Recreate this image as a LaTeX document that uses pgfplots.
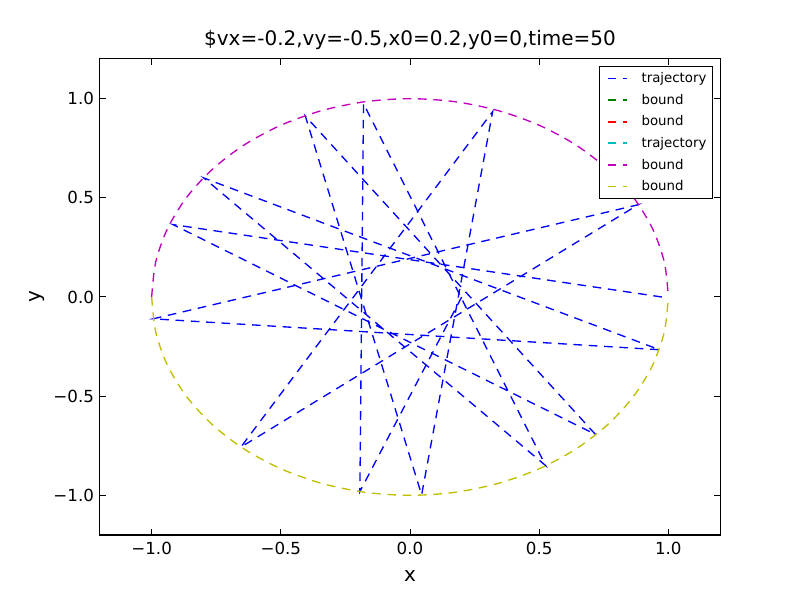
\documentclass[border=0pt]{standalone}
\usepackage{fontspec}
\setmainfont{DejaVu Sans}
\usepackage{pgfplots}
\pgfplotsset{compat=1.18}
\definecolor{mplb}{rgb}{0,0,1}
\definecolor{mplg}{rgb}{0,0.5,0}
\definecolor{mplr}{rgb}{1,0,0}
\definecolor{mplc}{rgb}{0,0.75,0.75}
\definecolor{mplm}{rgb}{0.75,0,0.75}
\definecolor{mply}{rgb}{0.75,0.75,0}
\begin{document}
\begin{tikzpicture}
\begin{axis}[
  scale only axis, width=465pt, height=357pt,
  xmin=-1.2, xmax=1.2, ymin=-1.2, ymax=1.2,
  xtick={-1,-0.5,0,0.5,1}, xticklabels={−1.0,−0.5,0.0,0.5,1.0},
  ytick={-1,-0.5,0,0.5,1}, yticklabels={−1.0,−0.5,0.0,0.5,1.0},
  minor tick num=0,
  tick align=inside, xtick pos=both, ytick pos=both,
  major tick length=4.5pt,
  tick style={black, line width=0.75pt},
  axis line style={black, line width=0.75pt},
  tick label style={font=\fontsize{12.5}{14}\selectfont},
  xticklabel style={yshift=-2pt},
  yticklabel style={xshift=-1pt},
  xlabel={x}, ylabel={y},
  xlabel style={at={(axis description cs:0.5,-0.086)}, anchor=center, font=\fontsize{15}{17}\selectfont},
  ylabel style={at={(axis description cs:-0.101,0.5)}, anchor=center, font=\fontsize{15}{17}\selectfont},
  title={\$vx=-0.2,vy=-0.5,x0=0.2,y0=0,time=50},
  title style={at={(axis description cs:0.5,1.0126)}, anchor=base, font=\fontsize{15}{17}\selectfont},
  legend cell align=left,
  legend style={at={(axis description cs:0.9887,0.9853)}, anchor=north east,
    font=\fontsize{10}{12}\selectfont, draw=black, line width=0.75pt,
    row sep=4.1pt, inner sep=3pt,
    nodes={inner sep=1.5pt}},
  legend image post style={line width=1.4pt},
  legend image code/.code={\draw[#1] (3pt,0pt) -- (17.5pt,0pt); \path[draw=none, fill=none] (0pt,0pt) -- (27pt,0pt);},
]
\addplot[color=mplb, line width=1pt, dash pattern=on 6.5pt off 5pt] coordinates {
(0.2,0) (-0.194,-0.981) (-0.180,0.975) (0.525,-0.850) (-0.798,0.600)
(0.966,-0.266) (-0.994,-0.110) (0.883,0.465) (-0.655,-0.757) (0.320,0.935)
(0.045,-0.998) (-0.405,0.912) (0.718,-0.693) (-0.917,0.365) (0.975,0.0)
};
\addlegendentry{trajectory}
\addlegendimage{color=mplg, dash pattern=on 6.5pt off 5pt}
\addlegendentry{bound}
\addlegendimage{color=mplr, dash pattern=on 6.5pt off 5pt}
\addlegendentry{bound}
\addlegendimage{color=mplc, dash pattern=on 6.5pt off 5pt}
\addlegendentry{trajectory}
\addplot[color=mplm, line width=1pt, dash pattern=on 6.5pt off 5pt, smooth] coordinates {
(-1,0) (-0.9848,0.1736) (-0.9397,0.3420) (-0.8660,0.5) (-0.7660,0.6428) (-0.6428,0.7660)
(-0.5,0.8660) (-0.3420,0.9397) (-0.1736,0.9848) (0,1) (0.1736,0.9848) (0.3420,0.9397)
(0.5,0.8660) (0.6428,0.7660) (0.7660,0.6428) (0.8660,0.5) (0.9397,0.3420) (0.9848,0.1736) (1,0)
};
\addlegendentry{bound}
\addplot[color=mply, line width=1pt, dash pattern=on 6.5pt off 5pt, smooth] coordinates {
(-1,0) (-0.9848,-0.1736) (-0.9397,-0.3420) (-0.8660,-0.5) (-0.7660,-0.6428) (-0.6428,-0.7660)
(-0.5,-0.8660) (-0.3420,-0.9397) (-0.1736,-0.9848) (0,-1) (0.1736,-0.9848) (0.3420,-0.9397)
(0.5,-0.8660) (0.6428,-0.7660) (0.7660,-0.6428) (0.8660,-0.5) (0.9397,-0.3420) (0.9848,-0.1736) (1,0)
};
\addlegendentry{bound}
\end{axis}
\path ([shift={(-75pt,-45.75pt)}]current axis.south west) rectangle ([shift={(60pt,44.25pt)}]current axis.north east);
\end{tikzpicture}
\end{document}
